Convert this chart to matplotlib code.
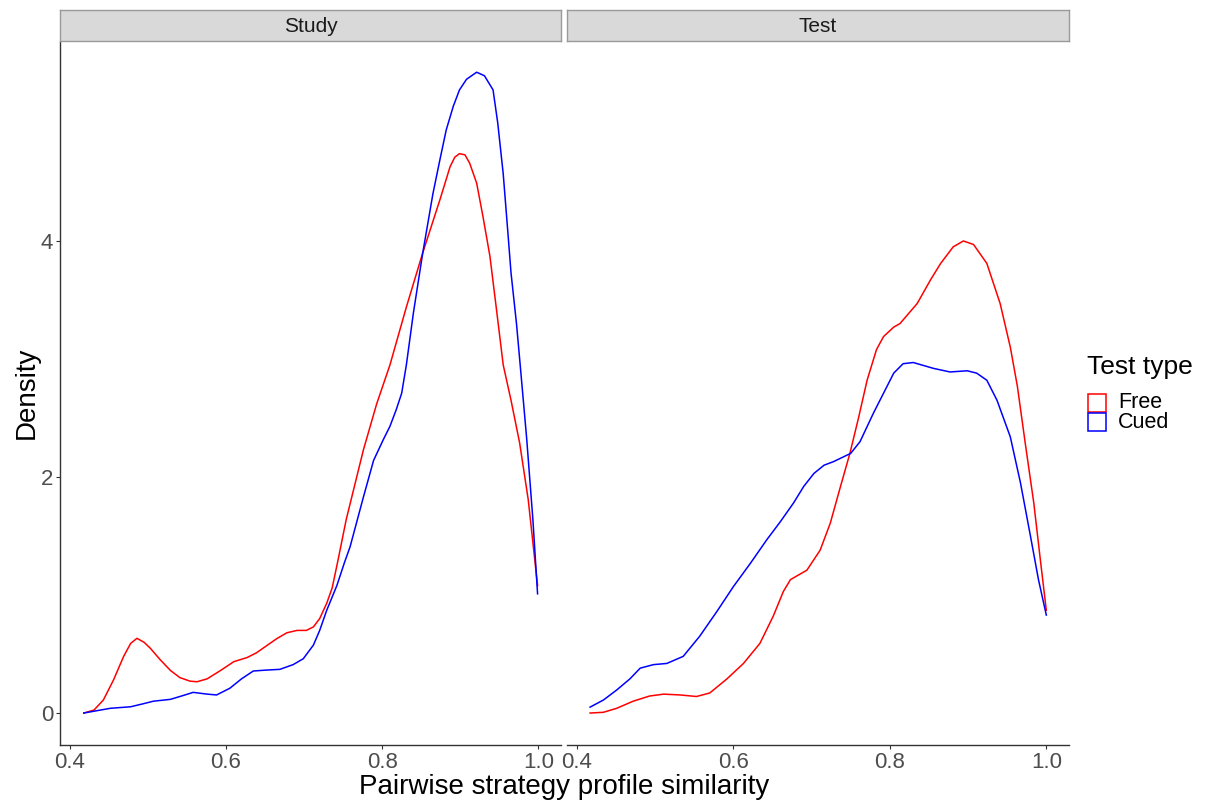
import matplotlib
matplotlib.use("Agg")
import matplotlib.pyplot as plt
from matplotlib.patches import Rectangle

plt.rcParams['font.family'] = ['Liberation Sans', 'DejaVu Sans']

# ---------------- data ----------------
panels = ["Study", "Test"]
series = ["Free", "Cued"]
colors = {"Free": "#FF0000", "Cued": "#0000FF"}

study_free_x = [0.418, 0.431, 0.443, 0.456, 0.469, 0.478, 0.486, 0.495, 0.503, 0.516,
                0.529, 0.541, 0.554, 0.563, 0.576, 0.593, 0.610, 0.627, 0.639, 0.652,
                0.665, 0.678, 0.691, 0.703, 0.712, 0.720, 0.729, 0.736, 0.743, 0.754,
                0.776, 0.793, 0.810, 0.831, 0.852, 0.874, 0.887, 0.893, 0.899, 0.906,
                0.912, 0.921, 0.929, 0.938, 0.946, 0.955, 0.965, 0.976, 0.987, 0.999]
study_free_y = [0.00, 0.025, 0.11, 0.28, 0.48, 0.59, 0.633, 0.60, 0.55, 0.45,
                0.36, 0.30, 0.27, 0.265, 0.29, 0.36, 0.435, 0.47, 0.51, 0.57,
                0.63, 0.68, 0.70, 0.70, 0.73, 0.80, 0.93, 1.06, 1.28, 1.64,
                2.23, 2.62, 2.95, 3.44, 3.90, 4.35, 4.63, 4.71, 4.74, 4.73,
                4.66, 4.49, 4.21, 3.87, 3.44, 2.95, 2.65, 2.29, 1.81, 1.08]

study_cued_x = [0.418, 0.435, 0.452, 0.478, 0.495, 0.507, 0.529, 0.546, 0.558, 0.576,
                0.588, 0.605, 0.620, 0.635, 0.652, 0.669, 0.686, 0.699, 0.712, 0.720,
                0.729, 0.742, 0.752, 0.759, 0.776, 0.789, 0.801, 0.810, 0.818, 0.825,
                0.831, 0.840, 0.852, 0.865, 0.874, 0.882, 0.891, 0.899, 0.908, 0.921,
                0.931, 0.942, 0.948, 0.955, 0.961, 0.965, 0.972, 0.977, 0.985, 0.993,
                0.999]
study_cued_y = [0.00, 0.02, 0.04, 0.053, 0.08, 0.10, 0.116, 0.15, 0.175, 0.16,
                0.153, 0.21, 0.29, 0.356, 0.364, 0.37, 0.41, 0.46, 0.576, 0.70,
                0.87, 1.08, 1.28, 1.41, 1.83, 2.14, 2.31, 2.43, 2.57, 2.71,
                2.95, 3.39, 3.90, 4.40, 4.69, 4.94, 5.14, 5.28, 5.37, 5.43,
                5.40, 5.28, 5.00, 4.57, 4.07, 3.73, 3.30, 2.93, 2.33, 1.64,
                1.01]

test_free_x = [0.417, 0.434, 0.451, 0.472, 0.493, 0.511, 0.532, 0.553, 0.570, 0.592,
               0.613, 0.634, 0.651, 0.664, 0.673, 0.686, 0.694, 0.711, 0.724, 0.737,
               0.749, 0.760, 0.771, 0.783, 0.792, 0.805, 0.813, 0.835, 0.852, 0.865,
               0.881, 0.894, 0.907, 0.924, 0.941, 0.954, 0.963, 0.973, 0.984, 0.992,
               1.000]
test_free_y = [0.00, 0.006, 0.04, 0.10, 0.144, 0.16, 0.153, 0.14, 0.17, 0.29,
               0.42, 0.59, 0.82, 1.03, 1.13, 1.18, 1.21, 1.38, 1.61, 1.92,
               2.20, 2.50, 2.82, 3.08, 3.19, 3.27, 3.30, 3.47, 3.67, 3.81,
               3.95, 4.00, 3.97, 3.81, 3.47, 3.10, 2.77, 2.29, 1.78, 1.32,
               0.87]

test_cued_x = [0.417, 0.434, 0.451, 0.468, 0.481, 0.498, 0.515, 0.536, 0.557, 0.579,
               0.600, 0.622, 0.643, 0.660, 0.677, 0.690, 0.703, 0.716, 0.728, 0.750,
               0.762, 0.779, 0.792, 0.805, 0.817, 0.830, 0.856, 0.877, 0.899, 0.911,
               0.924, 0.937, 0.954, 0.967, 0.980, 0.990, 1.000]
test_cued_y = [0.05, 0.11, 0.195, 0.29, 0.38, 0.41, 0.42, 0.48, 0.65, 0.86,
               1.07, 1.27, 1.47, 1.62, 1.78, 1.92, 2.03, 2.10, 2.13, 2.20,
               2.30, 2.54, 2.71, 2.88, 2.96, 2.97, 2.92, 2.89, 2.90, 2.88,
               2.82, 2.65, 2.34, 1.95, 1.49, 1.13, 0.83]

data = {
    ("Study", "Free"): (study_free_x, study_free_y),
    ("Study", "Cued"): (study_cued_x, study_cued_y),
    ("Test", "Free"): (test_free_x, test_free_y),
    ("Test", "Cued"): (test_cued_x, test_cued_y),
}

x_ticks = [0.4, 0.6, 0.8, 1.0]
x_ticklabels = ["0.4", "0.6", "0.8", "1.0"]
y_ticks = [0, 2, 4]
y_ticklabels = ["0", "2", "4"]

# ---------------- layout ----------------
W, H = 1206, 802
fig = plt.figure(figsize=(W / 100, H / 100), dpi=100)

def fx(px):
    return px / W

def fy(py):
    return 1 - py / H

panel_px = {"Study": (60, 561), "Test": (567, 1069)}
top_px, bot_px = 42, 745
strip_top, strip_bot = 10, 41
grey_txt = "#4D4D4D"
axis_col = "#333333"

for name in panels:
    l, r = panel_px[name]
    ax = fig.add_axes([fx(l), fy(bot_px), fx(r - l), (bot_px - top_px) / H])
    for s in series:
        xs, ys = data[(name, s)]
        ax.plot(xs, ys, color=colors[s], lw=1.1, solid_joinstyle='round',
                antialiased=True)
    ax.set_xlim(0.3875, 1.029)
    ax.set_ylim(-0.271, 5.686)
    ax.set_xticks(x_ticks)
    ax.set_xticklabels(x_ticklabels)
    for sp in ["top", "right"]:
        ax.spines[sp].set_visible(False)
    ax.spines["bottom"].set_color(axis_col)
    ax.spines["bottom"].set_linewidth(1.0)
    ax.tick_params(axis='x', colors=axis_col, labelcolor=grey_txt, labelsize=16,
                   length=3, width=0.8, pad=2)
    if name == "Study":
        ax.spines["left"].set_color(axis_col)
        ax.spines["left"].set_linewidth(1.0)
        ax.set_yticks(y_ticks)
        ax.set_yticklabels(y_ticklabels)
        ax.tick_params(axis='y', colors=axis_col, labelcolor=grey_txt, labelsize=16,
                       length=3, width=0.8, pad=2)
    else:
        ax.spines["left"].set_visible(False)
        ax.set_yticks([])

    # strip
    sax = fig.add_axes([fx(l), fy(strip_bot), fx(r - l), (strip_bot - strip_top) / H])
    sax.set_xticks([])
    sax.set_yticks([])
    sax.set_facecolor("#D9D9D9")
    for sp in sax.spines.values():
        sp.set_color("#9A9A9A")
        sp.set_linewidth(1.0)
    sax.text(0.5, 0.48, name, transform=sax.transAxes, ha='center', va='center',
             fontsize=15, color="#1A1A1A")

# axis titles
fig.text(fx(564), fy(787), "Pairwise strategy profile similarity", ha='center',
         va='center', fontsize=20, color="black")
fig.text(fx(27), fy(393), "Density", ha='center', va='center', rotation=90,
         fontsize=20, color="black")

# legend (manual)
fig.text(fx(1087), fy(367), "Test type", ha='left', va='center', fontsize=19,
         color="black")
key_w, key_h = 18, 18
key_y = [394, 413]
for s, ky in zip(series, key_y):
    fig.add_artist(Rectangle((fx(1088), fy(ky + key_h)), fx(key_w), key_h / H,
                             transform=fig.transFigure, facecolor='none',
                             edgecolor=colors[s], lw=1.1))
    fig.text(fx(1118), fy(ky + key_h / 2), s, ha='left', va='center',
             fontsize=15.5, color="black")

fig.savefig("out.png", dpi=100, facecolor="white")
